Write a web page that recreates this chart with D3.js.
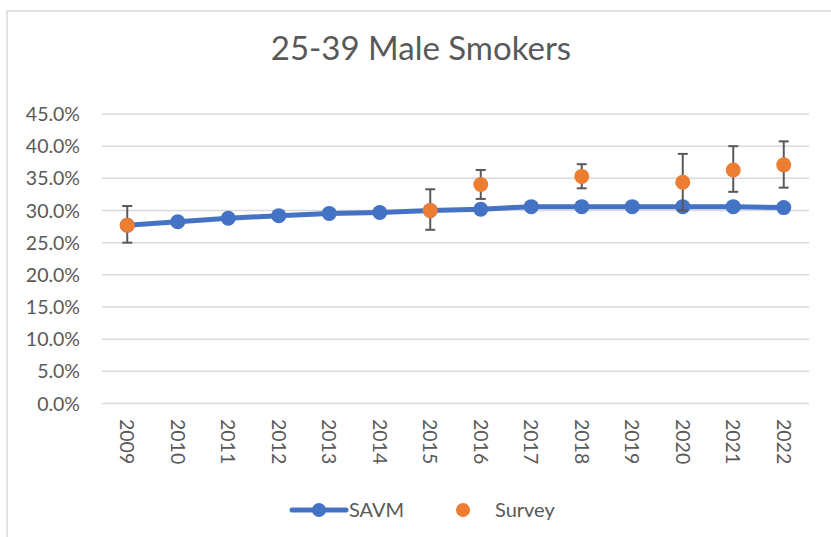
<!DOCTYPE html>
<html>
<head>
<meta charset="utf-8">
<script src="https://cdn.jsdelivr.net/npm/d3@7"></script>
<style>
  body { margin: 0; background: #fff; }
  svg { display: block; font-family: Lato, "Open Sans", sans-serif; }
</style>
</head>
<body>
<svg id="chart" width="831" height="537"></svg>
<script>
// data
const years = ['2009','2010','2011','2012','2013','2014','2015','2016','2017','2018','2019','2020','2021','2022'];
const savm = [27.7, 28.25, 28.8, 29.2, 29.55, 29.7, 30.0, 30.2, 30.6, 30.6, 30.6, 30.6, 30.6, 30.45];
const surveyYears = ['2009','2015','2016','2018','2020','2021','2022'];
const surveyVals = [27.7, 30.0, 34.05, 35.3, 34.4, 36.3, 37.1];
const surveyLow = [25.0, 27.0, 31.8, 33.45, 30.0, 32.9, 33.55];
const surveyHigh = [30.7, 33.3, 36.3, 37.2, 38.8, 40.0, 40.75];
const yTicks = [0, 5, 10, 15, 20, 25, 30, 35, 40, 45];

const svg = d3.select('#chart');
const grey = '#595959';

// chart border (runs off the right and bottom edges)
svg.append('rect')
  .attr('x', 7).attr('y', 11)
  .attr('width', 840).attr('height', 560)
  .attr('fill', 'none')
  .attr('stroke', '#d9d9d9')
  .attr('stroke-width', 1.5);

svg.append('text')
  .attr('x', 421).attr('y', 60)
  .attr('text-anchor', 'middle')
  .attr('fill', grey)
  .style('font-size', '33px')
  .text('25-39 Male Smokers');

const x = d3.scaleBand().domain(years).range([102, 809]);
const y = d3.scaleLinear().domain([0, 45]).range([403.5, 114]);

// gridlines
svg.append('g')
  .selectAll('line')
  .data(yTicks)
  .join('line')
  .attr('x1', 102).attr('x2', 809)
  .attr('y1', d => y(d)).attr('y2', d => y(d))
  .attr('stroke', '#d9d9d9')
  .attr('stroke-width', 1.5);

// y labels
svg.append('g')
  .selectAll('text')
  .data(yTicks)
  .join('text')
  .attr('x', 80)
  .attr('y', d => y(d) + 7)
  .attr('text-anchor', 'end')
  .attr('fill', grey)
  .style('font-size', '19.5px')
  .text(d => d.toFixed(1) + '%');

// x labels, turned 90 degrees
svg.append('g')
  .selectAll('text')
  .data(years)
  .join('text')
  .attr('transform', d => `translate(${x(d) + x.bandwidth() / 2 - 7},419) rotate(90)`)
  .attr('fill', grey)
  .style('font-size', '19.5px')
  .text(d => d);

const cx = d => x(d) + x.bandwidth() / 2;

// SAVM line
const line = d3.line()
  .x((d, i) => cx(years[i]))
  .y(d => y(d));

svg.append('path')
  .datum(savm)
  .attr('d', line)
  .attr('fill', 'none')
  .attr('stroke', '#4472C4')
  .attr('stroke-width', 5)
  .attr('stroke-linejoin', 'round');

svg.append('g')
  .selectAll('circle')
  .data(savm)
  .join('circle')
  .attr('cx', (d, i) => cx(years[i]))
  .attr('cy', d => y(d))
  .attr('r', 7.5)
  .attr('fill', '#4472C4');

// survey error bars
const eb = svg.append('g')
  .attr('stroke', grey)
  .attr('stroke-width', 2);

surveyYears.forEach((yr, i) => {
  const px = cx(yr);
  eb.append('line')
    .attr('x1', px).attr('x2', px)
    .attr('y1', y(surveyLow[i])).attr('y2', y(surveyHigh[i]));
  [surveyLow[i], surveyHigh[i]].forEach(v => {
    eb.append('line')
      .attr('x1', px - 5).attr('x2', px + 5)
      .attr('y1', y(v)).attr('y2', y(v));
  });
});

// survey points
svg.append('g')
  .selectAll('circle')
  .data(surveyVals)
  .join('circle')
  .attr('cx', (d, i) => cx(surveyYears[i]))
  .attr('cy', d => y(d))
  .attr('r', 7.5)
  .attr('fill', '#ED7D31');

// legend
const lg = svg.append('g');
lg.append('line')
  .attr('x1', 292).attr('x2', 346)
  .attr('y1', 510).attr('y2', 510)
  .attr('stroke', '#4472C4')
  .attr('stroke-width', 5)
  .attr('stroke-linecap', 'round');
lg.append('circle')
  .attr('cx', 319).attr('cy', 510).attr('r', 7)
  .attr('fill', '#4472C4');
lg.append('text')
  .attr('x', 349).attr('y', 517)
  .attr('fill', grey)
  .style('font-size', '20px')
  .text('SAVM');
lg.append('circle')
  .attr('cx', 463).attr('cy', 510).attr('r', 7)
  .attr('fill', '#ED7D31');
lg.append('text')
  .attr('x', 495).attr('y', 517)
  .attr('fill', grey)
  .style('font-size', '20px')
  .text('Survey');
</script>
</body>
</html>
